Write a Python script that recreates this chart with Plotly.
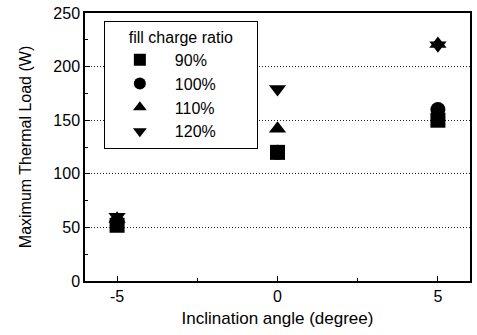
import plotly.graph_objects as go

angles = [-5, 0, 5]
series_names = ["90%", "100%", "110%", "120%"]
load_90 = [52, 120, 150]
load_100 = [55, 120, 160]
load_110 = [58, 142, 221]
load_120 = [60, 179, 220]
symbols = ["square", "circle", "triangle-up", "triangle-down"]
values = [load_90, load_100, load_110, load_120]

pad = "\u00a0" * 8
fig = go.Figure()
for name, vals, sym in zip(series_names, values, symbols):
    fig.add_trace(go.Scatter(
        x=angles, y=vals, mode="markers", name=name + pad,
        marker=dict(symbol=sym, size=15, color="black", line=dict(width=0)),
    ))

font = "Liberation Sans, Arial, sans-serif"
fig.update_layout(
    width=477, height=335,
    margin=dict(l=85, r=5, t=12, b=54),
    plot_bgcolor="white", paper_bgcolor="white",
    font=dict(family=font, size=16, color="black"),
    showlegend=True,
    legend=dict(
        title=dict(text="fill charge ratio", font=dict(size=16), side="top center"),
        x=0.049, y=0.97, xanchor="left", yanchor="top",
        bordercolor="black", borderwidth=1, bgcolor="white",
        font=dict(size=16), tracegroupgap=0, itemsizing="constant",
        itemwidth=60,
    ),
    xaxis=dict(
        range=[-6, 6], tickvals=[-5, 0, 5], ticktext=["-5", "0", "5"],
        ticks="inside", ticklen=5, tickcolor="black",
        minor=dict(tickvals=[-2.5, 2.5], ticks="inside", ticklen=3, tickcolor="black"),
        showline=True, linecolor="black", linewidth=1.5, mirror=True,
        showgrid=False, zeroline=False,
        title=dict(text="Inclination angle (degree)", font=dict(size=17), standoff=8),
        tickfont=dict(size=16),
    ),
    yaxis=dict(
        range=[0, 250], tickvals=[0, 50, 100, 150, 200, 250],
        ticks="inside", ticklen=5, tickcolor="black",
        minor=dict(tickvals=[25, 75, 125, 175, 225], ticks="inside", ticklen=3, tickcolor="black"),
        showline=True, linecolor="black", linewidth=1.5, mirror=True,
        showgrid=True, gridcolor="#222", gridwidth=1, griddash="1px,2px",
        zeroline=False,
        title=dict(text="Maximum Thermal Load (W)", font=dict(size=16), standoff=18),
        tickfont=dict(size=16),
    ),
)
fig.write_html("out.html")
